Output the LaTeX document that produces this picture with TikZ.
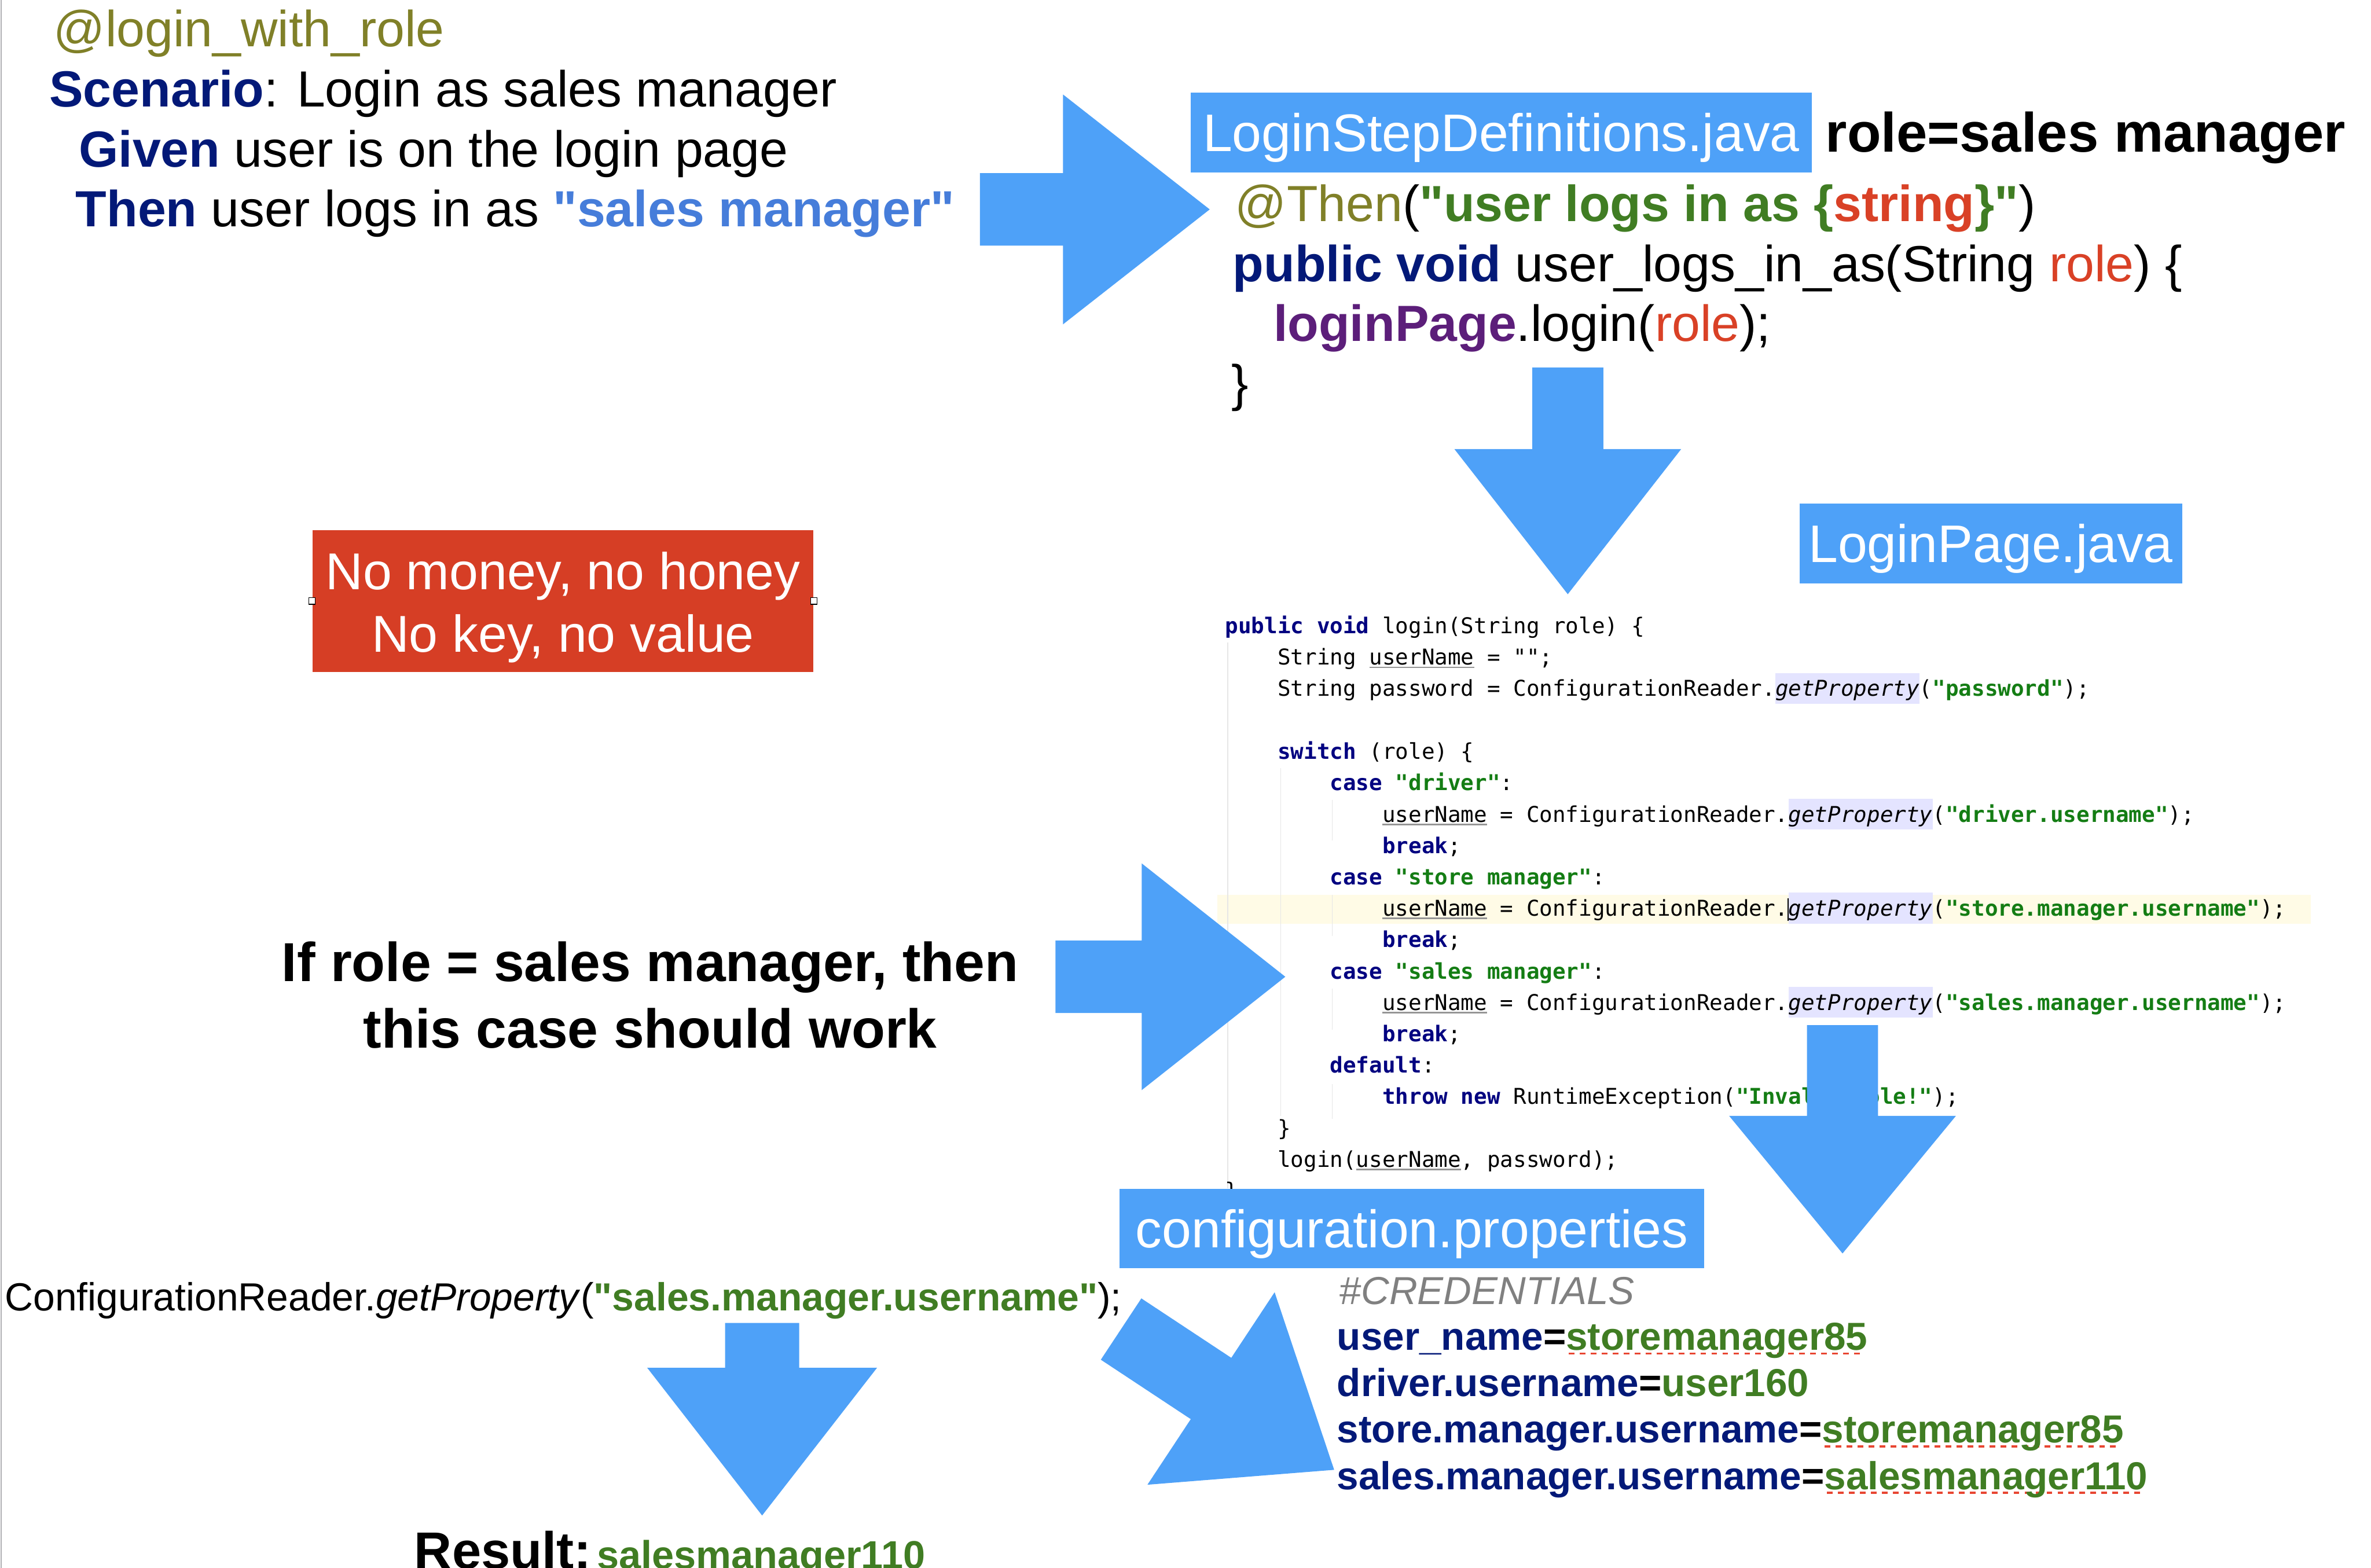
\documentclass[tikz,border=0pt]{standalone}
\usepackage{fontspec}
\setmainfont{Liberation Sans}
\newfontfamily\plainsans{Liberation Sans}
\newfontfamily\codefont{DejaVu Sans Mono}
\usetikzlibrary{calc, positioning}

\newlength{\pxu}\setlength{\pxu}{0.026135cm}

\definecolor{arrowblue}{RGB}{78,161,248}
\definecolor{gnavy}{RGB}{3,25,120}
\definecolor{tagolive}{RGB}{128,128,40}
\definecolor{strgreen}{RGB}{64,125,35}
\definecolor{argred}{RGB}{217,65,38}
\definecolor{fieldpurple}{RGB}{92,30,122}
\definecolor{quoteblue}{RGB}{70,125,218}
\definecolor{warnred}{RGB}{214,62,37}
\definecolor{codenavy}{RGB}{0,0,128}
\definecolor{codegreen}{RGB}{20,125,20}
\definecolor{propbg}{RGB}{228,228,255}
\definecolor{caretline}{RGB}{255,251,230}
\definecolor{guidegray}{RGB}{230,230,230}
\definecolor{ulgray}{RGB}{150,150,150}
\definecolor{commentgray}{RGB}{128,128,128}
\definecolor{spellred}{RGB}{232,70,50}
\definecolor{edgegray}{RGB}{175,175,180}

% code look
\newcommand{\kw}[1]{\textcolor{codenavy}{\bfseries #1}}
\newcommand{\jstr}[1]{\textcolor{codegreen}{\bfseries #1}}
\newcommand{\gp}{{\setlength{\fboxsep}{0pt}\colorbox{propbg}{\rule[-3.7pt]{0pt}{15.2pt}\textit{getProperty}}}}
\newcommand{\ind}[1]{\hspace*{#1\fontcharwd\font`\0}}
\newcommand{\uvar}[1]{\setbox0=\hbox{#1}\rlap{\textcolor{ulgray}{\rule[-1.6pt]{\wd0}{0.8pt}}}\box0\relax}
\newcommand{\spell}[1]{\setbox0=\hbox{#1}\rlap{\textcolor{spellred}{\raisebox{-2.2pt}{\hbox to \wd0{\leaders\hbox to 5.4pt{\hss\rule{2.8pt}{1pt}\hss}\hfill}}}}\box0\relax}

% block arrow: tail, tip, shaft half width, head half width, head length
\newcommand{\blockarrow}[5]{%
  \coordinate (#1-hb) at ($(#2)!#5*0.74366pt!(#1)$);
  \fill[arrowblue] ($(#1)!#3*0.74366pt!90:(#2)$)
    -- ($(#1-hb)!#3*0.74366pt!90:(#2)$)
    -- ($(#1-hb)!#4*0.74366pt!90:(#2)$)
    -- (#2)
    -- ($(#1-hb)!#4*0.74366pt!-90:(#2)$)
    -- ($(#1-hb)!#3*0.74366pt!-90:(#2)$)
    -- ($(#1)!#3*0.74366pt!-90:(#2)$) -- cycle;}

\begin{document}
\plainsans
\begin{tikzpicture}[
  x=0.026135cm, y=-0.026135cm,
  txt/.style={anchor=base west, inner sep=0pt, font=\fontsize{25}{30}\selectfont},
  filebox/.style={fill=arrowblue, text=white, inner sep=0pt,
    font=\fontsize{26}{31}\selectfont, text height=18.6pt, text depth=0pt},
  codeline/.style={anchor=base west, inner sep=0pt, font=\codefont\fontsize{10.7}{15.4}\selectfont},
  prop/.style={anchor=base west, inner sep=0pt, font=\bfseries\fontsize{19.2}{23}\selectfont, text=gnavy},
  notebox/.style={fill=warnred, inner sep=0pt},
  notetxt/.style={anchor=base, inner sep=0pt, text=white, font=\fontsize{25.5}{30}\selectfont},
  handle/.style={draw=black, fill=white, line width=0.4pt, minimum size=4.3\pxu, inner sep=0pt},
  bigtxt/.style={anchor=base, inner sep=0pt, font=\bfseries\fontsize{27}{32}\selectfont}
]
\useasboundingbox (0,0) rectangle (1568,1037);
\clip (0,0) rectangle (1568,1037);
\fill[white] (0,0) rectangle (1568,1037);
\draw[edgegray, line width=0.6pt] (0.6,0) -- (0.6,1037);

% feature file
\node[txt] (tag) at (35.3,31) {\textcolor{tagolive}{@login\_with\_role}};
\node[txt] (scen) at (32.4,70.8) {\textcolor{gnavy}{\bfseries Scenario}: Login as sales manager};
\node[txt] (given) at (51.9,110.3) {\textcolor{gnavy}{\bfseries Given} user is on the login page};
\node[txt] (then) at (49.8,150) {\textcolor{gnavy}{\bfseries Then} user logs in as \textcolor{quoteblue}{\bfseries "sales manager"}};

% step definition
\node[filebox, minimum width=410.5\pxu, minimum height=52.7\pxu] (stepfile) at (992.75,87.55) {LoginStepDefinitions.java};
\node[txt, font=\bfseries\fontsize{27.3}{32}\selectfont] (rolenote) at (1207,100.6) {role=sales manager};
\node[txt] (thenann) at (816.6,146.4) {\textcolor{tagolive}{@Then}(\textcolor{strgreen}{\bfseries "user logs in as \{}\textcolor{argred}{\bfseries string}\textcolor{strgreen}{\bfseries \}"})};
\node[txt] (sig) at (815,186.3) {\textcolor{gnavy}{\bfseries public void} user\_logs\_in\_as(String \textcolor{argred}{role}) \{};
\node[txt] (call) at (842,225.8) {\textcolor{fieldpurple}{\bfseries loginPage}.login(\textcolor{argred}{role});};
\node[txt] (close) at (814,265) {\}};

% page object
\node[filebox, minimum width=253\pxu, minimum height=53\pxu] (pagefile) at (1316.5,359.5) {LoginPage.java};

\fill[caretline] (805,591.8) rectangle (1528,610.8);
\draw[guidegray, line width=0.5pt] (812,425) -- (812,786);
\draw[guidegray, line width=0.5pt] (847,508) -- (847,738);
\foreach \ya/\yb in {529/556, 592/619, 654/681, 717/740}
  \draw[guidegray, line width=0.5pt] (881,\ya) -- (881,\yb);

\node[codeline] (c0) at (810,419.0) {\kw{public void} login(String role) \{};
\node[codeline] (c1) at (810,439.8) {\ind{4}String \uvar{userName} = "";};
\node[codeline] (c2) at (810,460.5) {\ind{4}String password = ConfigurationReader.\gp(\jstr{"password"});};
\node[codeline] (c4) at (810,502.0) {\ind{4}\kw{switch} (role) \{};
\node[codeline] (c5) at (810,522.8) {\ind{8}\kw{case} \jstr{"driver"}:};
\node[codeline] (c6) at (810,543.6) {\ind{12}\uvar{userName} = ConfigurationReader.\gp(\jstr{"driver.username"});};
\node[codeline] (c7) at (810,564.3) {\ind{12}\kw{break};};
\node[codeline] (c8) at (810,585.1) {\ind{8}\kw{case} \jstr{"store manager"}:};
\node[codeline] (c9) at (810,605.8) {\ind{12}\uvar{userName} = ConfigurationReader.\gp(\jstr{"store.manager.username"});};
\node[codeline] (c10) at (810,626.6) {\ind{12}\kw{break};};
\node[codeline] (c11) at (810,647.4) {\ind{8}\kw{case} \jstr{"sales manager"}:};
\node[codeline] (c12) at (810,668.1) {\ind{12}\uvar{userName} = ConfigurationReader.\gp(\jstr{"sales.manager.username"});};
\node[codeline] (c13) at (810,688.9) {\ind{12}\kw{break};};
\node[codeline] (c14) at (810,709.6) {\ind{8}\kw{default}:};
\node[codeline] (c15) at (810,730.4) {\ind{12}\kw{throw new} RuntimeException(\jstr{"Invalid role!"});};
\node[codeline] (c16) at (810,751.2) {\ind{4}\}};
\node[codeline] (c17) at (810,771.9) {\ind{4}login(\uvar{userName}, password);};
\node[codeline] (c18) at (810,792.7) {\}};
\draw[line width=0.6pt] (1182.6,594) -- (1182.6,609);

% properties file
\node[filebox, minimum width=386.6\pxu, minimum height=52.3\pxu] (propfile) at (933.7,812.45) {configuration.properties};
\node[prop, font=\itshape\fontsize{19.2}{23}\selectfont, text=commentgray] (cred) at (885.5,862.5) {\#CREDENTIALS};
\node[prop] (p1) at (884,893) {user\_name\textcolor{black}{=}\spell{\textcolor{strgreen}{storemanager85}}};
\node[prop] (p2) at (884,923.7) {driver.username\textcolor{black}{=}\textcolor{strgreen}{user160}};
\node[prop] (p3) at (884,954.3) {store.manager.username\textcolor{black}{=}\spell{\textcolor{strgreen}{storemanager85}}};
\node[prop] (p4) at (884,985) {sales.manager.username\textcolor{black}{=}\spell{\textcolor{strgreen}{salesmanager110}}};

% notes
\node[notebox, minimum width=331.4\pxu, minimum height=94\pxu] (motto) at (372.3,397.5) {};
\node[notetxt] (motto1) at (372.3,390) {No money, no honey};
\node[notetxt] (motto2) at (372.3,431.2) {No key, no value};
\node[handle] (hl) at (motto.west) {};
\node[handle] (hr) at (motto.east) {};

\node[bigtxt] (rule1) at (430,649) {If role = sales manager, then};
\node[bigtxt] (rule2) at (430,693) {this case should work};

\node[txt, font=\fontsize{19.3}{23}\selectfont] (lookup) at (3,866.7) {ConfigurationReader.\textit{getProperty}(\textcolor{strgreen}{\bfseries "sales.manager.username"});};
\node[txt, font=\bfseries\fontsize{25.7}{30}\selectfont] (result) at (273.8,1037.5) {Result:};
\node[txt, font=\bfseries\fontsize{19.5}{23}\selectfont, text=strgreen] (resval) at ([xshift=3\pxu]result.base east) {salesmanager110};

% arrows
\coordinate (a1t) at (648,138.5);   \coordinate (a1h) at (800,138.5);
\coordinate (a2t) at (1036.8,243);  \coordinate (a2h) at (1036.8,393);
\coordinate (a3t) at (698,646);     \coordinate (a3h) at (850,646);
\coordinate (a4t) at (1218.5,678);  \coordinate (a4h) at (1218.5,829);
\coordinate (a5t) at (741.4,879);   \coordinate (a5h) at (882.3,972.1);
\coordinate (a6t) at (504,875);     \coordinate (a6h) at (504,1002.3);
\blockarrow{a1t}{a1h}{24}{76}{97}
\blockarrow{a2t}{a2h}{23.5}{75}{96}
\blockarrow{a3t}{a3h}{24}{75}{95}
\blockarrow{a4t}{a4h}{23.5}{75}{91}
\blockarrow{a5t}{a5h}{24.3}{76.3}{97.6}
\blockarrow{a6t}{a6h}{24.5}{76}{97.7}
\end{tikzpicture}
\end{document}
